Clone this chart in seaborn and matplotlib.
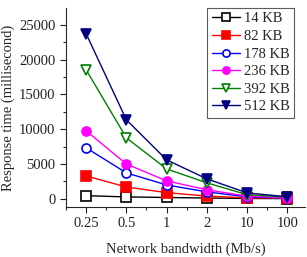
import numpy as np
import pandas as pd
import seaborn as sns
import matplotlib.pyplot as plt
from matplotlib.ticker import MultipleLocator, AutoMinorLocator

# data
bandwidth = ["0.25", "0.5", "1", "2", "10", "100"]
sizes = ["14 KB", "82 KB", "178 KB", "236 KB", "392 KB", "512 KB"]
t_14 = [460, 280, 200, 120, 60, 40]
t_82 = [3300, 1700, 900, 400, 150, 80]
t_178 = [7330, 3730, 2000, 1000, 300, 100]
t_236 = [9770, 5000, 2590, 1300, 400, 150]
t_392 = [18530, 8760, 4300, 2300, 600, 250]
t_512 = [23700, 11350, 5600, 2870, 860, 300]

colors = ["black", "red", "blue", "magenta", "green", "navy"]
markers = ["s", "s", "o", "o", "v", "v"]
filled = [False, True, False, True, False, True]

sns.set_style("ticks")
plt.rcParams['font.family'] = ['Liberation Serif', 'DejaVu Serif']

fig = plt.figure(figsize=(3.07, 2.57), dpi=100)
ax = fig.add_axes([0.215, 0.195, 0.78, 0.774])

xpos = np.arange(len(bandwidth))
series = [t_14, t_82, t_178, t_236, t_392, t_512]
for vals, lab, c, m, f in zip(series, sizes, colors, markers, filled):
    df = pd.DataFrame({"x": xpos, "y": vals})
    sns.lineplot(data=df, x="x", y="y", ax=ax, color=c, marker=m, label=lab,
                 markersize=6.5, linewidth=1.0,
                 markerfacecolor=c if f else "white", markeredgecolor=c,
                 markeredgewidth=1.2)

ax.set_xlim(-0.5, 5.45)
ax.set_ylim(-1150, 27400)
ax.set_xticks(xpos)
ax.set_xticklabels(bandwidth)
ax.xaxis.set_minor_locator(MultipleLocator(0.5))
ax.yaxis.set_major_locator(MultipleLocator(5000))
ax.yaxis.set_minor_locator(AutoMinorLocator(2))
ax.tick_params(which="major", length=4, width=0.8, labelsize=10.5, colors="#222222")
ax.tick_params(which="minor", length=2, width=0.8)
sns.despine(ax=ax)
ax.set_xlabel("Network bandwidth (Mb/s)", fontsize=10.5, labelpad=9)
ax.set_ylabel("Response time (millisecond)", fontsize=10.5, labelpad=3)

leg = ax.legend(loc="upper right", bbox_to_anchor=(0.965, 1.015), fontsize=10.5,
                frameon=True, fancybox=False, handlelength=1.9, handletextpad=0.3,
                borderpad=0.3, labelspacing=0.3, borderaxespad=0.2, markerscale=0.8)
leg.get_frame().set_edgecolor("#333333")
leg.get_frame().set_linewidth(0.8)

fig.savefig("out.png", dpi=100)
